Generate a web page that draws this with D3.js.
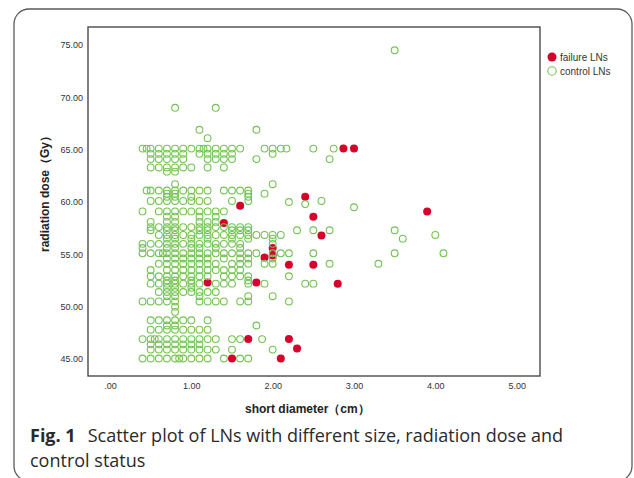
<!DOCTYPE html>
<html>
<head>
<meta charset="utf-8">
<script src="https://cdn.jsdelivr.net/npm/d3@7"></script>
<style>
  body { margin: 0; background: #fff; }
  svg { display: block; }
</style>
</head>
<body>
<svg id="chart" width="634" height="478"></svg>
<script>
// tick values shown on the axes
var xTicks = [0, 1, 2, 3, 4, 5];
var yTicks = [45, 50, 55, 60, 65, 70, 75];

// control LNs, one entry per dose row: [dose, short diameters]
var controlRows = [
  [74.5, [3.5]],
  [69.0, [0.8, 1.3]],
  [66.9, [1.1, 1.8]],
  [66.1, [1.2]],
  [65.1, [0.4, 0.45, 0.5, 0.6, 0.7, 0.8, 0.9, 1.0, 1.1, 1.15, 1.2, 1.3, 1.4, 1.5, 1.6, 1.9, 2.0, 2.1, 2.17, 2.5, 2.75]],
  [64.6, [0.5, 0.6, 0.7, 0.8, 0.9, 1.1, 1.2, 1.3, 1.4, 1.5, 2.0]],
  [64.1, [0.5, 0.6, 0.7, 0.8, 0.9, 1.2, 1.3, 1.4, 1.5, 1.8, 2.7]],
  [63.3, [0.5, 0.6, 0.7, 0.8, 0.9, 1.0, 1.2, 1.4]],
  [62.9, [0.7, 0.8]],
  [61.7, [0.8, 2.0]],
  [61.1, [0.45, 0.5, 0.6, 0.7, 0.8, 0.9, 1.0, 1.1, 1.2, 1.4, 1.5, 1.6, 1.7]],
  [60.8, [0.7, 0.8, 1.7, 1.9]],
  [60.5, [0.7, 0.8, 1.0, 1.7]],
  [60.1, [0.5, 0.6, 0.7, 0.8, 0.9, 1.0, 1.1, 1.2, 1.5, 1.7, 2.6]],
  [60.0, [2.2]],
  [59.8, [2.4]],
  [59.5, [3.0]],
  [59.1, [0.4, 0.6, 0.7, 0.8, 0.9, 1.0, 1.1, 1.2, 1.3, 1.4]],
  [58.6, [0.7, 0.8, 1.1, 1.3]],
  [58.1, [0.5, 0.7, 0.8, 1.1, 1.2, 1.3]],
  [57.6, [0.5, 0.6, 0.7, 0.8, 0.9, 1.0, 1.1, 1.2, 1.3, 1.4, 1.5, 1.6, 1.7]],
  [57.3, [0.5, 0.7, 0.8, 1.1, 1.2, 1.5, 1.6, 1.7, 2.3, 2.5, 2.7, 3.5]],
  [56.85, [0.6, 0.7, 0.8, 0.9, 1.0, 1.1, 1.2, 1.3, 1.4, 1.5, 1.6, 1.7, 1.8, 1.9, 2.0, 2.1, 4.0]],
  [56.5, [0.7, 0.8, 1.0, 1.2, 1.5, 1.7, 2.0, 3.6]],
  [56.0, [0.4, 0.5, 0.6, 0.7, 0.8, 0.9, 1.0, 1.1, 1.2, 1.3, 1.4, 1.5, 1.6, 2.0]],
  [55.6, [0.4, 0.7, 0.8, 1.0, 1.1, 1.3, 1.6]],
  [55.1, [0.4, 0.5, 0.6, 0.65, 0.7, 0.8, 0.9, 1.0, 1.1, 1.2, 1.3, 1.4, 1.5, 1.6, 1.7, 1.8, 2.0, 2.1, 2.2, 2.5, 3.5, 4.1]],
  [54.6, [0.7, 0.8, 0.9, 1.0, 1.1, 1.2, 1.4, 1.6, 1.7, 2.0]],
  [54.1, [0.6, 0.7, 0.8, 0.9, 1.0, 1.1, 1.2, 1.3, 1.5, 1.6, 1.7, 1.9, 2.0, 2.7, 3.3]],
  [53.5, [0.5, 0.7, 0.8, 0.9, 1.0, 1.1, 1.2, 1.3, 1.4, 1.5, 1.6]],
  [52.9, [0.5, 0.6, 0.7, 0.8, 0.9, 1.0, 1.1, 1.2, 1.4, 1.5, 1.6, 1.7, 2.2]],
  [52.5, [0.7, 0.8, 1.0, 1.7]],
  [52.2, [0.5, 0.6, 0.7, 0.8, 0.9, 1.0, 1.1, 1.3, 1.4, 1.5, 1.7, 1.9, 2.4, 2.5]],
  [51.8, [0.7, 0.8, 1.0]],
  [51.4, [0.6, 0.7, 0.8, 0.9, 1.0, 1.1, 1.2, 1.3]],
  [51.0, [0.7, 0.8, 1.1, 1.7, 2.0]],
  [50.5, [0.4, 0.5, 0.6, 0.7, 0.8, 1.1, 1.2, 1.3, 1.4, 1.6, 1.7, 2.2]],
  [50.0, [0.8]],
  [49.5, [0.8]],
  [48.7, [0.5, 0.6, 0.7, 0.8, 0.9, 1.0, 1.2]],
  [48.2, [0.7, 0.8, 1.8]],
  [47.8, [0.5, 0.6, 0.7, 0.8, 0.9, 1.0, 1.1, 1.2]],
  [46.9, [0.4, 0.5, 0.55, 0.6, 0.7, 0.8, 0.9, 1.0, 1.1, 1.2, 1.3, 1.5, 1.6, 1.87]],
  [46.4, [0.5, 0.6, 0.7, 0.8, 0.9, 1.0, 1.1]],
  [45.9, [0.5, 0.6, 0.7, 0.8, 0.9, 1.0, 1.1, 1.2, 1.3, 1.5, 2.0]],
  [45.05, [0.4, 0.5, 0.6, 0.7, 0.8, 0.85, 0.9, 1.0, 1.1, 1.2, 1.4, 1.6, 1.7]]
];

// failure LNs: [short diameter, dose]
var failurePoints = [
  [2.87, 65.1], [3.0, 65.1], [1.6, 59.65], [2.4, 60.5], [1.4, 58.0],
  [2.5, 58.6], [2.6, 56.8], [2.0, 55.6], [2.0, 54.9], [1.9, 54.7],
  [2.2, 54.0], [2.5, 54.0], [3.9, 59.1], [1.2, 52.3], [1.8, 52.3],
  [2.8, 52.2], [1.7, 46.9], [2.2, 46.9], [2.3, 46.0], [1.5, 45.05],
  [2.1, 45.05]
];

var legendLabels = ["failure LNs", "control LNs"];

var controlPoints = [];
controlRows.forEach(function(r) {
  r[1].forEach(function(x) { controlPoints.push([x, r[0]]); });
});

var svg = d3.select("#chart");
var green = "#74c353", red = "#d6002c";

// outer figure frame
svg.append("rect")
  .attr("x", 14).attr("y", 9)
  .attr("width", 618).attr("height", 472)
  .attr("rx", 15).attr("ry", 15)
  .attr("fill", "none")
  .attr("stroke", "#5a5a5a")
  .attr("stroke-width", 1.3);

var box = { left: 88, top: 27, right: 540, bottom: 376 };

var x = d3.scaleLinear().domain([-0.2705, 5.287]).range([box.left, box.right]);
var y = d3.scaleLinear().domain([43.376, 76.72]).range([box.bottom, box.top]);

var fmt = function(d) { return d === 0 ? ".00" : d.toFixed(2); };

var yAxis = svg.append("g")
  .attr("transform", "translate(" + (box.left - 4) + ",0)")
  .call(d3.axisLeft(y).tickValues(yTicks).tickFormat(fmt).tickSize(0).tickPadding(1));
yAxis.select(".domain").remove();
yAxis.selectAll("text")
  .attr("font-family", "Arial, 'Liberation Sans', sans-serif")
  .attr("font-size", 9)
  .attr("fill", "#333");

var xAxis = svg.append("g")
  .attr("transform", "translate(0," + (box.bottom + 5) + ")")
  .call(d3.axisBottom(x).tickValues(xTicks).tickFormat(fmt).tickSize(0).tickPadding(2));
xAxis.select(".domain").remove();
xAxis.selectAll("text")
  .attr("font-family", "Arial, 'Liberation Sans', sans-serif")
  .attr("font-size", 9)
  .attr("fill", "#333");

// plot box
svg.append("rect")
  .attr("x", box.left).attr("y", box.top)
  .attr("width", box.right - box.left).attr("height", box.bottom - box.top)
  .attr("fill", "none")
  .attr("stroke", "#4a4a4a")
  .attr("stroke-width", 1.4);

// failure first, control circles drawn over them
svg.append("g").selectAll("circle")
  .data(failurePoints)
  .enter()
  .append("circle")
  .attr("cx", function(d) { return x(d[0]); })
  .attr("cy", function(d) { return y(d[1]); })
  .attr("r", 4)
  .attr("fill", red);

svg.append("g").selectAll("circle")
  .data(controlPoints)
  .enter()
  .append("circle")
  .attr("cx", function(d) { return x(d[0]); })
  .attr("cy", function(d) { return y(d[1]); })
  .attr("r", 3.4)
  .attr("fill", "none")
  .attr("stroke", green)
  .attr("stroke-width", 1.1);

// axis titles
svg.append("text")
  .attr("x", 245).attr("y", 413)
  .attr("font-family", "Arial, 'Liberation Sans', sans-serif")
  .attr("font-weight", "bold")
  .attr("font-size", 12)
  .attr("fill", "#222")
  .text("short diameter（cm）");

svg.append("text")
  .attr("transform", "translate(49,191) rotate(-90)")
  .attr("text-anchor", "middle")
  .attr("font-family", "Arial, 'Liberation Sans', sans-serif")
  .attr("font-weight", "bold")
  .attr("font-size", 12)
  .attr("fill", "#222")
  .text("radiation dose（Gy）");

// legend
var legend = svg.append("g").attr("transform", "translate(552,57)");
legend.append("circle").attr("cx", 0).attr("cy", 0).attr("r", 4.5).attr("fill", red);
legend.append("circle").attr("cx", 0).attr("cy", 14).attr("r", 4.2)
  .attr("fill", "none").attr("stroke", green).attr("stroke-width", 1.1);
legend.selectAll("text")
  .data(legendLabels)
  .enter()
  .append("text")
  .attr("x", 8)
  .attr("y", function(d, i) { return i * 14 + 3.5; })
  .attr("font-family", "Arial, 'Liberation Sans', sans-serif")
  .attr("font-size", 10)
  .attr("fill", "#333")
  .text(function(d) { return d; });

// caption
var cap = svg.append("text")
  .attr("x", 30).attr("y", 442)
  .attr("font-family", "'Open Sans', 'Noto Sans', sans-serif")
  .attr("font-size", 18)
  .attr("fill", "#2a2a2a");
cap.append("tspan").attr("font-weight", "bold").text("Fig. 1");
cap.append("tspan").attr("dx", 12).text("Scatter plot of LNs with different size, radiation dose and");
svg.append("text")
  .attr("x", 30).attr("y", 467)
  .attr("font-family", "'Open Sans', 'Noto Sans', sans-serif")
  .attr("font-size", 18)
  .attr("fill", "#2a2a2a")
  .text("control status");
</script>
</body>
</html>
